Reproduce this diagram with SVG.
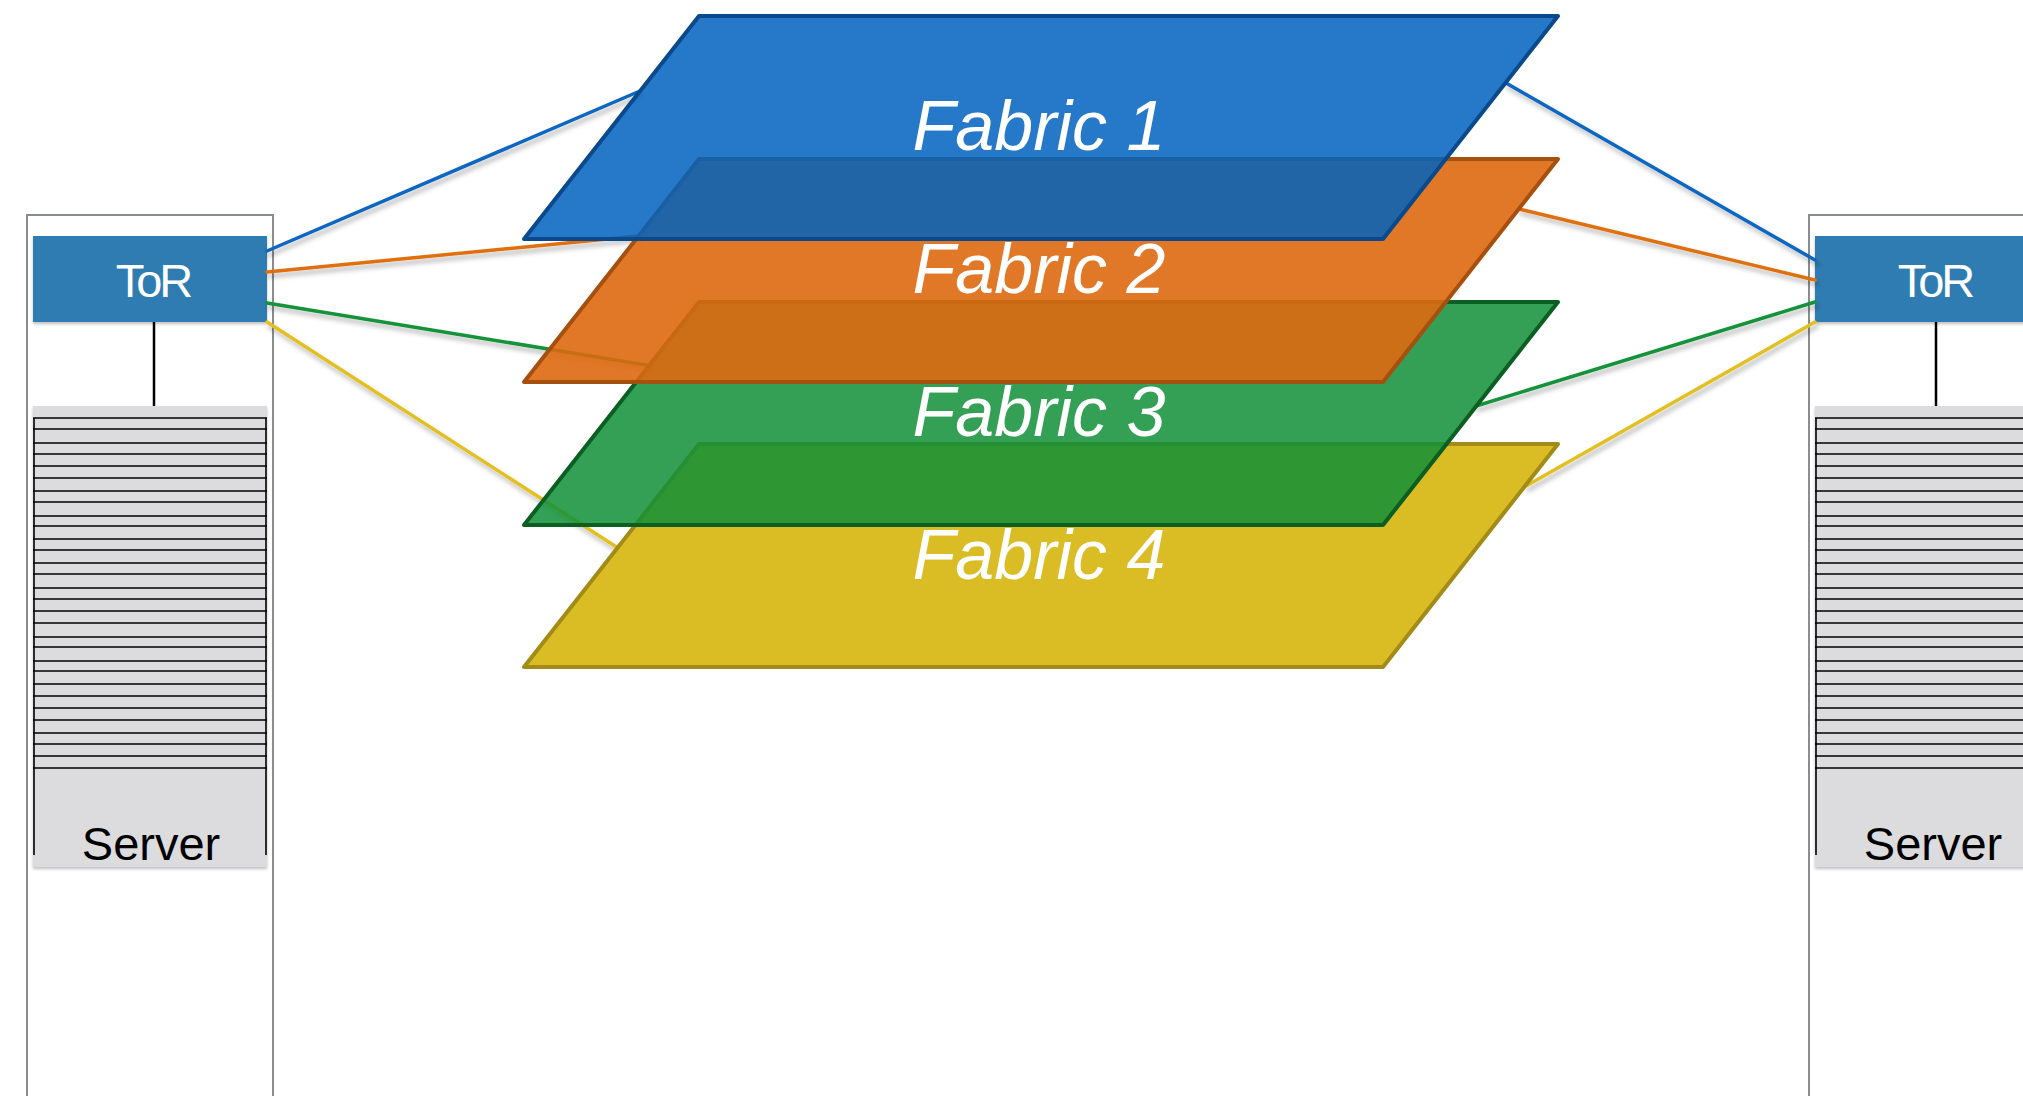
<svg xmlns="http://www.w3.org/2000/svg" width="2023" height="1096" viewBox="0 0 2023 1096">
  <style>
    .rack { fill: #ffffff; stroke: #8a8d90; stroke-width: 2; }
    .tor { fill: #2e7cb2; }
    .tortext { font-family: "Liberation Sans", Arial, sans-serif; font-size: 47px; fill: #ffffff; letter-spacing: -3px; }
    .srv { fill: #dcdcde; }
    .slot { stroke: #000000; stroke-width: 1.6; }
    .srvtext { font-family: "Liberation Sans", Arial, sans-serif; font-size: 47px; fill: #000000; }
    .link { stroke: #000000; stroke-width: 2.5; }
    .conn { fill: none; stroke-width: 3.5; stroke-linecap: round; }
    .fab { stroke-width: 4; stroke-linejoin: round; }
    .fabtext { font-family: "Liberation Sans", Arial, sans-serif; font-style: italic; font-size: 70px; fill: #ffffff; }
  </style>
  <defs>
    <filter id="sh" x="-10%" y="-10%" width="120%" height="130%">
      <feDropShadow dx="2" dy="4" stdDeviation="2.5" flood-color="#000000" flood-opacity="0.3"/>
    </filter>
    <filter id="bsh" x="-5%" y="-5%" width="110%" height="110%">
      <feDropShadow dx="0" dy="2" stdDeviation="1.5" flood-color="#000000" flood-opacity="0.25"/>
    </filter>
    <g id="rackTpl">
      <rect class="rack" x="27" y="215" width="246" height="900"/>
      <line class="link" x1="154" y1="322" x2="154" y2="406"/>
      <rect class="tor" x="33" y="236" width="234" height="86" filter="url(#bsh)"/>
      <text class="tortext" x="153" y="297" text-anchor="middle">ToR</text>
      <rect class="srv" x="33" y="406" width="234" height="461" filter="url(#bsh)"/>
      <g class="slot">
        <line x1="33" y1="418" x2="267" y2="418"/>
        <line x1="33" y1="429" x2="267" y2="429"/>
        <line x1="33" y1="443" x2="267" y2="443"/>
        <line x1="33" y1="454" x2="267" y2="454"/>
        <line x1="33" y1="466" x2="267" y2="466"/>
        <line x1="33" y1="478" x2="267" y2="478"/>
        <line x1="33" y1="491" x2="267" y2="491"/>
        <line x1="33" y1="502" x2="267" y2="502"/>
        <line x1="33" y1="516" x2="267" y2="516"/>
        <line x1="33" y1="526" x2="267" y2="526"/>
        <line x1="33" y1="539" x2="267" y2="539"/>
        <line x1="33" y1="550" x2="267" y2="550"/>
        <line x1="33" y1="563" x2="267" y2="563"/>
        <line x1="33" y1="574" x2="267" y2="574"/>
        <line x1="33" y1="588" x2="267" y2="588"/>
        <line x1="33" y1="599" x2="267" y2="599"/>
        <line x1="33" y1="611" x2="267" y2="611"/>
        <line x1="33" y1="623" x2="267" y2="623"/>
        <line x1="33" y1="637" x2="267" y2="637"/>
        <line x1="33" y1="647" x2="267" y2="647"/>
        <line x1="33" y1="661" x2="267" y2="661"/>
        <line x1="33" y1="671" x2="267" y2="671"/>
        <line x1="33" y1="684" x2="267" y2="684"/>
        <line x1="33" y1="696" x2="267" y2="696"/>
        <line x1="33" y1="708" x2="267" y2="708"/>
        <line x1="33" y1="720" x2="267" y2="720"/>
        <line x1="33" y1="733" x2="267" y2="733"/>
        <line x1="33" y1="744" x2="267" y2="744"/>
        <line x1="33" y1="756" x2="267" y2="756"/>
        <line x1="33" y1="768" x2="267" y2="768"/>
        <line x1="34" y1="418" x2="34" y2="855"/>
        <line x1="266" y1="418" x2="266" y2="855"/>
      </g>
      <text class="srvtext" x="151" y="860" text-anchor="middle">Server</text>
    </g>
  </defs>
  <rect width="2023" height="1096" fill="#ffffff"/>

  <g id="rack-left">
    <use href="#rackTpl"/>
  </g>
  <g id="rack-right" transform="translate(1782,0)">
    <use href="#rackTpl"/>
  </g>

  <g id="connectors" filter="url(#sh)">
    <line class="conn" stroke="#0e66c2" x1="267" y1="251" x2="640" y2="91"/>
    <line class="conn" stroke="#e0700f" x1="267" y1="272" x2="639" y2="236"/>
    <line class="conn" stroke="#13923a" x1="267" y1="303" x2="652" y2="366"/>
    <line class="conn" stroke="#e2c021" x1="267" y1="322" x2="618" y2="548"/>
    <line class="conn" stroke="#0e66c2" x1="1506" y1="83" x2="1815" y2="260"/>
    <line class="conn" stroke="#e0700f" x1="1519" y1="209" x2="1815" y2="280"/>
    <line class="conn" stroke="#13923a" x1="1476" y1="406" x2="1815" y2="302"/>
    <line class="conn" stroke="#e2c021" x1="1526" y1="486" x2="1815" y2="322"/>
  </g>

  <g id="fabric-4">
    <polygon class="fab" fill="#dabd24" stroke="#a38b18" points="699,444 1558,444 1383,667 524,667"/>
    <text class="fabtext" x="1039" y="579" text-anchor="middle">Fabric 4</text>
  </g>
  <g id="fabric-3">
    <polygon class="fab" fill="#108f37" fill-opacity="0.85" stroke="#0b5f22" points="699,302 1558,302 1383,525 524,525"/>
    <text class="fabtext" x="1039" y="436" text-anchor="middle">Fabric 3</text>
  </g>
  <g id="fabric-2">
    <polygon class="fab" fill="#dd6910" fill-opacity="0.9" stroke="#a5500f" points="699,159 1558,159 1383,382 524,382"/>
    <text class="fabtext" x="1039" y="293" text-anchor="middle">Fabric 2</text>
  </g>
  <g id="fabric-1">
    <polygon class="fab" fill="#0061be" fill-opacity="0.85" stroke="#0a4a8c" points="699,16 1558,16 1383,239 524,239"/>
    <text class="fabtext" x="1039" y="150" text-anchor="middle">Fabric 1</text>
  </g>
</svg>
